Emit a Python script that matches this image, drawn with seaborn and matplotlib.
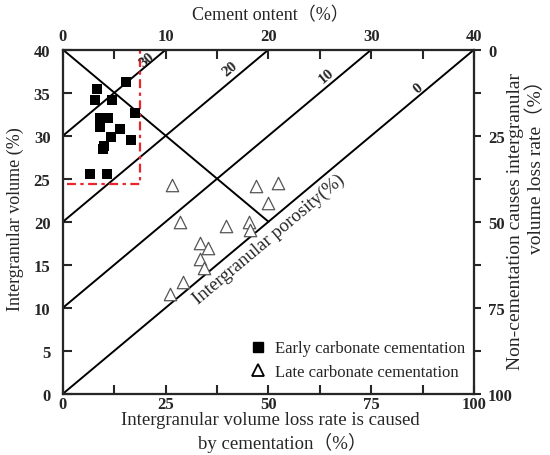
import numpy as np
import pandas as pd
import matplotlib.pyplot as plt
import seaborn as sns
from matplotlib.lines import Line2D

# early carbonate cementation: x = IGV loss by cementation (%), y = intergranular volume (%)
early_x = [8.3, 7.9, 11.9, 15.4, 9.1, 10.9, 9.1, 13.9, 17.6, 11.7, 16.5, 9.9, 9.7, 6.5, 10.7]
early_y = [35.4, 34.2, 34.2, 36.3, 32.1, 32.1, 31.0, 30.8, 32.6, 29.9, 29.5, 28.8, 28.4, 25.6, 25.6]

# late carbonate cementation
late_x = [26.5, 47.0, 52.3, 50.0, 28.5, 39.7, 45.3, 45.4, 33.4, 35.2, 33.4, 34.2, 29.3, 26.1]
late_y = [24.3, 24.1, 24.5, 22.2, 20.0, 19.5, 20.0, 19.0, 17.5, 16.9, 15.7, 14.6, 13.0, 11.6]

# iso-porosity lines (porosity = IGV - cement) and their labels
porosity_levels = [0, 10, 20, 30]
level_label_x = [86.5, 64.2, 40.7, 20.4]
level_label_y = [35.6, 37.0, 37.8, 38.9]

# compaction / cementation split line
split_x = [0, 50]
split_y = [40, 20]

# red dashed box around early cement
box_x = [1, 18.8, 18.8]
box_y = [24.4, 24.4, 40]

IGV0 = 40          # original intergranular volume
cement_max = 40    # top axis max
scale = cement_max / 100

sns.set_style('ticks')
plt.rcParams['font.family'] = ['Liberation Serif', 'Noto Sans CJK SC']
plt.rcParams['axes.linewidth'] = 1.5

fig = plt.figure(figsize=(5.5, 4.56), dpi=100)
ax = fig.add_axes([0.1145, 0.1344, 0.7473, 0.7544])

for p in porosity_levels:
    xe = (IGV0 - p) / scale
    sns.lineplot(x=[0, xe], y=[p, IGV0], color='black', lw=1.4, ax=ax,
                 estimator=None, sort=False)
sns.lineplot(x=split_x, y=split_y, color='black', lw=1.4, ax=ax,
             estimator=None, sort=False)
sns.lineplot(x=box_x, y=box_y, color='#e8262b', lw=1.6, ax=ax,
             estimator=None, sort=False, linestyle=(0, (4, 2, 1.5, 2)))

sns.scatterplot(x=early_x, y=early_y, marker='s', s=45, color='black',
                edgecolor='black', linewidth=0, ax=ax, zorder=3)
sns.scatterplot(x=late_x, y=late_y, marker='^', s=80, facecolor='white',
                edgecolor='#555555', linewidth=0.9, ax=ax, zorder=3)

for p, lx, ly in zip(porosity_levels, level_label_x, level_label_y):
    ax.text(lx, ly, str(p), rotation=40, ha='center', va='center',
            fontsize=11, fontweight='bold')
ax.text(50.2, 18.0, 'Intergranular porosity(%)', rotation=40,
        ha='center', va='center', fontsize=13.5)

ax.set_xlim(0, 100)
ax.set_ylim(0, 40)
ax.set_xticks(np.arange(0, 101, 12.5))
ax.set_xticklabels(['0', '', '25', '', '50', '', '75', '', '100'])
ax.set_yticks(np.arange(0, 41, 5))
ax.tick_params(axis='both', direction='in', length=6.5, width=1.5,
               labelsize=12)
ax.tick_params(axis='x', pad=2)
ax.tick_params(axis='y', pad=9)
for lab in ax.get_xticklabels() + ax.get_yticklabels():
    lab.set_fontweight('bold')

ax_top = ax.twiny()
ax_top.set_xlim(0, cement_max)
ax_top.set_xticks(np.arange(0, 41, 5))
ax_top.set_xticklabels(['0', '', '10', '', '20', '', '30', '', '40'])
ax_top.tick_params(axis='x', direction='in', length=6.5, width=1.5,
                   labelsize=12, pad=4)
for lab in ax_top.get_xticklabels():
    lab.set_fontweight('bold')

ax_r = ax.twinx()
ax_r.set_ylim(100, 0)
ax_r.set_yticks(np.arange(0, 101, 12.5))
ax_r.set_yticklabels(['0', '', '25', '', '50', '', '75', '', '100'])
ax_r.tick_params(axis='y', direction='out', length=5, width=1.5,
                 labelsize=12, pad=5)
for lab in ax_r.get_yticklabels():
    lab.set_fontweight('bold')

handles = [
    Line2D([], [], marker='s', color='black', linestyle='none', markersize=7),
    Line2D([], [], marker='^', markerfacecolor='white', markeredgecolor='black',
           markeredgewidth=1.3, linestyle='none', markersize=9),
]
ax.legend(handles, ['Early carbonate cementation', 'Late carbonate cementation'],
          loc='lower right', bbox_to_anchor=(1.007, 0.006), frameon=False,
          fontsize=12, handlelength=1.0, handletextpad=0.5,
          labelspacing=0.45, borderpad=0.2)

W, H = 550, 456
fig.text(270 / W, 1 - 16 / H, 'Cement ontent（%）', ha='center', va='center',
         fontsize=13)
fig.text(15 / W, 1 - 219 / H, 'Intergranular volume (%)', rotation=90,
         ha='center', va='center', fontsize=13)
fig.text(270 / W, 1 - 421 / H, 'Intergranular volume loss rate is caused',
         ha='center', va='center', fontsize=13.5)
fig.text(282 / W, 1 - 443 / H, 'by cementation（%）',
         ha='center', va='center', fontsize=13.5)
fig.text(516 / W, 1 - 222 / H, 'Non-cementation causes intergranular',
         rotation=90, ha='center', va='center', fontsize=14)
fig.text(536 / W, 1 - 162 / H, 'volume loss rate（%）',
         rotation=90, ha='center', va='center', fontsize=14)

fig.savefig('out.png', dpi=100)
